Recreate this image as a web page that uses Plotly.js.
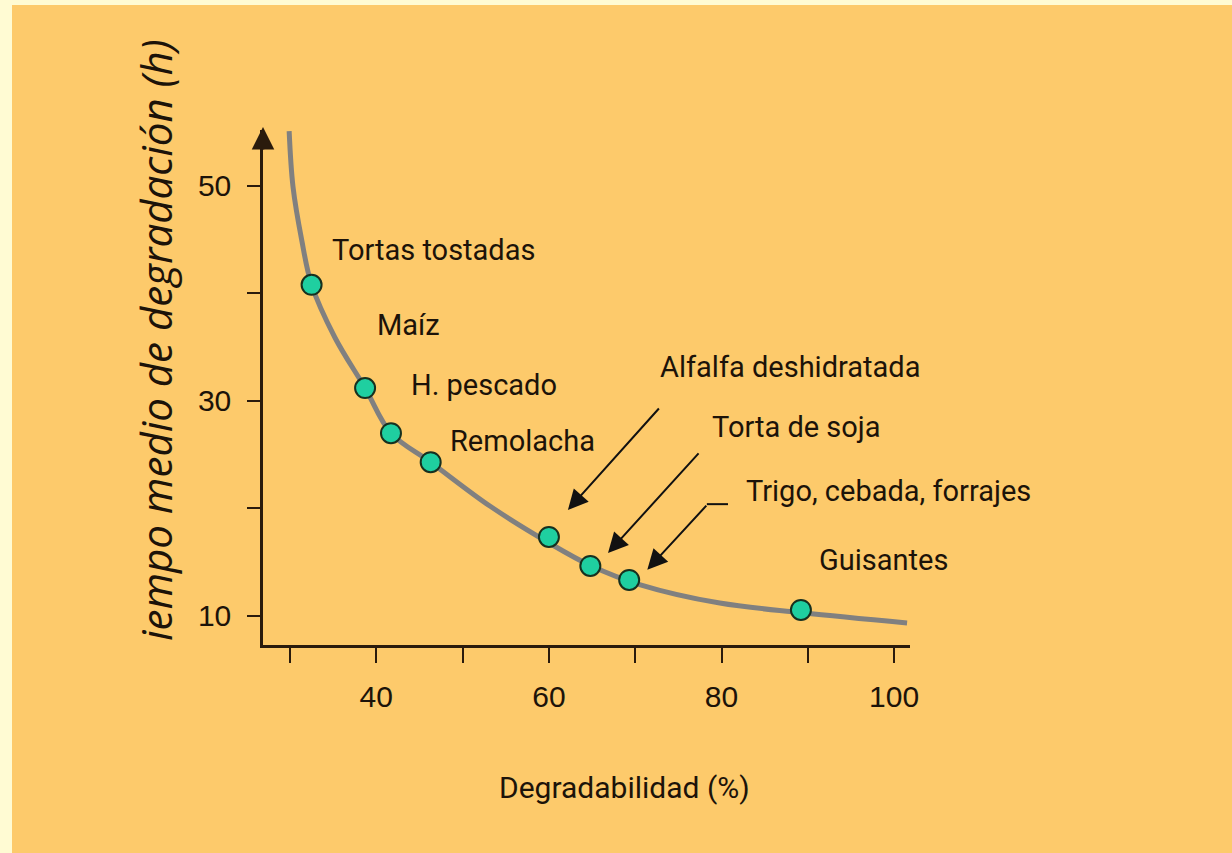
<!DOCTYPE html>
<html>
<head>
<meta charset="utf-8">
<script src="https://cdn.plot.ly/plotly-3.0.1.min.js"></script>
<style>
    html, body { margin: 0; padding: 0; background: #fffbd3; }
    #chart { position: absolute; left: 12px; top: 5px; width: 1220px; height: 848px; }
</style>
</head>
<body>
<div id="chart"></div>
<script>
// feeds and their measured points
let feeds = ['Tortas tostadas', 'Maíz', 'H. pescado', 'Remolacha', 'Alfalfa deshidratada', 'Torta de soja', 'Trigo, cebada, forrajes', 'Guisantes']
let degradability = [32.5, 38.7, 41.7, 46.3, 60.0, 64.8, 69.3, 89.2]
let halfLife = [40.8, 31.2, 27.0, 24.3, 17.35, 14.65, 13.35, 10.56]

// grey trend curve
let curveX = [29.9, 30.35, 31.35, 32.5, 35.2, 38.7, 41.7, 46.3, 53.2, 60.0, 64.8, 70.6, 79.8, 89.4, 101.5]
let curveY = [55.1, 49.9, 45.0, 40.8, 35.9, 31.2, 27.0, 24.3, 20.2, 16.8, 14.7, 12.9, 11.2, 10.3, 9.35]

// ticks
let xTicks = [30, 40, 50, 60, 70, 80, 90, 100]
let xTickText = ['', '40', '', '60', '', '80', '', '100']
let yTicks = [10, 20, 30, 40, 50]
let yTickText = ['10', '', '30', '', '50']

document.addEventListener('DOMContentLoaded', () => {
    renderPlot()
})

let renderPlot = () => {
    let ink = '#2a1b0c'
    let xRange = [26.87, 101.84]
    let yRange = [7.3, 55.2]

    let curve = {
        x: curveX,
        y: curveY,
        type: 'scatter',
        mode: 'lines',
        line: {color: '#808080', width: 5, shape: 'spline', smoothing: 1},
        hoverinfo: 'skip',
        cliponaxis: false
    }

    let points = {
        x: degradability,
        y: halfLife,
        text: feeds,
        type: 'scatter',
        mode: 'markers',
        marker: {size: 20, color: '#1fcfa0', line: {color: '#17301f', width: 2}},
        cliponaxis: false
    }

    // where each name sits (left edge, middle)
    let labelSpots = [
        [34.6, 44.05], [39.9, 37.1], [43.8, 31.5], [48.3, 26.3],
        [72.6, 33.2], [78.7, 27.6], [82.6, 21.6], [91.1, 15.2]
    ]
    let labelFont = {family: 'Roboto', size: 29, color: '#1c1309'}

    let annotations = feeds.map((name, i) => ({
        x: labelSpots[i][0],
        y: labelSpots[i][1],
        text: name,
        showarrow: false,
        xanchor: 'left',
        yanchor: 'middle',
        font: labelFont
    }))

    let arrowStyle = {
        text: '',
        showarrow: true,
        arrowhead: 2,
        arrowsize: 2,
        arrowwidth: 2,
        arrowcolor: '#111',
        axref: 'x',
        ayref: 'y',
        standoff: 0
    }
    // alfalfa, soja, trigo
    annotations.push(Object.assign({x: 62.2, y: 19.86, ax: 72.9, ay: 29.44}, arrowStyle))
    annotations.push(Object.assign({x: 66.85, y: 15.86, ax: 77.5, ay: 25.26}, arrowStyle))
    annotations.push(Object.assign({x: 71.4, y: 14.3, ax: 78.4, ay: 20.4}, arrowStyle))

    // arrow tip on the y axis
    annotations.push({
        xref: 'paper', yref: 'paper', x: 0, y: 1.006, text: '', showarrow: true,
        arrowhead: 2, arrowsize: 1.8, arrowwidth: 2.5, arrowcolor: ink,
        ax: 0, ay: 24, standoff: 0
    })

    // axis titles
    annotations.push({
        xref: 'paper', yref: 'paper', x: -0.167, y: 0.592,
        text: 'iempo medio de degradación (h)', textangle: -90, showarrow: false,
        xanchor: 'center', yanchor: 'middle',
        font: {family: 'Open Sans', size: 42, color: '#1c1309', style: 'italic'}
    })
    annotations.push({
        xref: 'paper', yref: 'paper', x: 0.5595, y: -0.276,
        text: 'Degradabilidad (%)', showarrow: false,
        xanchor: 'center', yanchor: 'middle',
        font: {family: 'Roboto', size: 30, color: '#1c1309'}
    })

    let tickFont = {family: 'Liberation Sans', size: 30, color: '#1c1309'}

    let layout = {
        width: 1220,
        height: 848,
        margin: {l: 251, r: 322, t: 125, b: 208},
        paper_bgcolor: '#fdca6b',
        plot_bgcolor: '#fdca6b',
        showlegend: false,
        hovermode: 'closest',

        xaxis: {
            range: xRange,
            showgrid: false,
            zeroline: false,
            showline: true,
            linecolor: ink,
            linewidth: 2.5,
            ticks: 'outside',
            ticklen: 15,
            tickwidth: 2,
            tickcolor: ink,
            tickvals: xTicks,
            ticktext: xTickText,
            ticklabelstandoff: 8,
            tickfont: tickFont,
            fixedrange: true
        },

        yaxis: {
            range: yRange,
            showgrid: false,
            zeroline: false,
            showline: true,
            linecolor: ink,
            linewidth: 2.5,
            ticks: 'outside',
            ticklen: 13,
            tickwidth: 2,
            tickcolor: ink,
            tickvals: yTicks,
            ticktext: yTickText,
            ticklabelstandoff: 10,
            tickfont: tickFont,
            fixedrange: true
        },

        shapes: [
            // short elbow on the trigo arrow
            {type: 'line', xref: 'x', yref: 'y', x0: 78.3, y0: 20.4, x1: 80.75, y1: 20.4,
             line: {color: '#111', width: 2}}
        ],

        annotations: annotations
    }

    Plotly.newPlot('chart', [curve, points], layout, {displayModeBar: false})
}
</script>
</body>
</html>
